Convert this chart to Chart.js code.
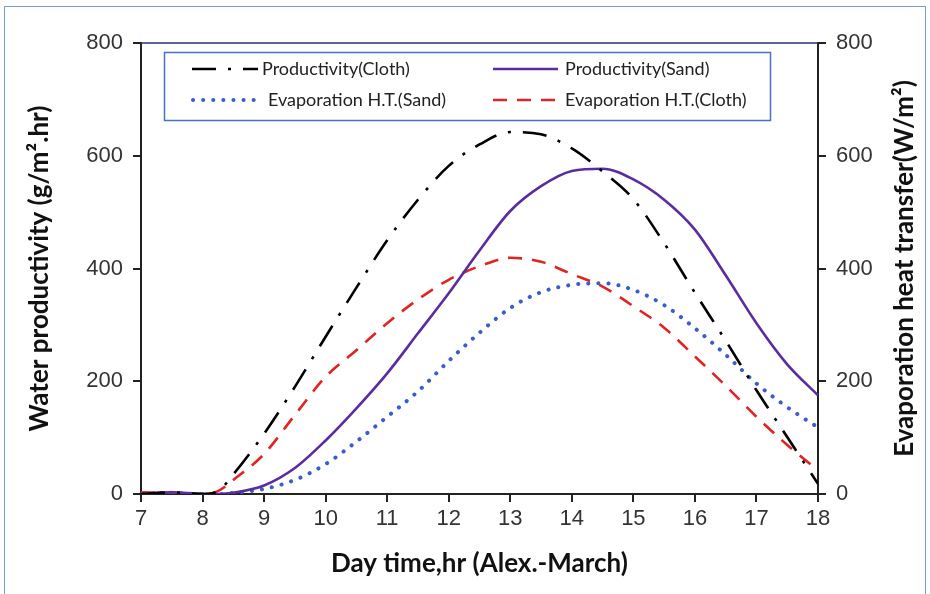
<!DOCTYPE html>
<html><head><meta charset="utf-8">
<script src="https://cdn.jsdelivr.net/npm/chart.js@4"></script>
<style>
html,body{margin:0;padding:0;background:#fff;}
#wrap{position:relative;width:930px;height:594px;overflow:hidden;}
#frame{position:absolute;left:4px;top:6px;width:922px;height:600px;border:1.5px solid #7b9bd6;box-sizing:border-box;pointer-events:none}
canvas{position:absolute;left:0;top:0}
</style></head>
<body><div id="wrap"><canvas id="c" width="930" height="594"></canvas><div id="frame"></div></div>
<script>
const hours = [7, 7.5, 8, 8.25, 8.5, 9, 9.5, 10, 10.5, 11, 11.5, 12, 12.5, 13, 13.5, 14, 14.5, 15, 15.5, 16, 16.5, 17, 17.5, 18];
const productivityCloth = [0, 3, 0, 5, 35, 107, 190, 279, 366, 450, 522, 582, 620, 642, 638, 613, 572, 523, 445, 357, 272, 184, 101, 18];
const productivitySand  = [0, 3, 0, 0, 2, 15, 46, 95, 152, 214, 285, 356, 432, 502, 546, 573, 577, 558, 522, 469, 388, 303, 230, 175];
const evapSand          = [0, 2, 0, 0, 2, 9, 25, 53, 93, 137, 182, 236, 286, 330, 358, 371, 374, 362, 335, 294, 247, 196, 154, 118];
const evapCloth         = [3, 2, 0, 5, 25, 71, 140, 208, 255, 303, 345, 380, 404, 419, 412, 390, 368, 333, 295, 244, 192, 137, 87, 42];
const yTicks = [0, 200, 400, 600, 800];
const xTicks = [7, 8, 9, 10, 11, 12, 13, 14, 15, 16, 17, 18];

const labels = ["Productivity(Cloth)", "Productivity(Sand)", "Evaporation H.T.(Sand)", "Evaporation H.T.(Cloth)"];
const rightTitle = 'Evaporation heat transfer(W/m\u00B2)';
const pts = arr => arr.map((v, i) => ({x: hours[i], y: v}));

const styles = [
  {color: '#000000', dash: [24, 12, 3, 12], width: 2.6, cap: 'butt'},
  {color: '#5b2ca0', dash: [], width: 2.6, cap: 'butt'},
  {color: '#3a5ccc', dash: [0.1, 10], width: 4, cap: 'round'},
  {color: '#e02424', dash: [14, 10], width: 2.6, cap: 'butt'}
];
const series = [productivityCloth, productivitySand, evapSand, evapCloth];
const axisOf = ['y', 'y', 'y2', 'y2'];

const datasets = series.map((s, i) => ({
  label: labels[i],
  data: pts(s),
  borderColor: styles[i].color,
  borderWidth: styles[i].width,
  borderDash: styles[i].dash,
  borderCapStyle: styles[i].cap,
  pointRadius: 0,
  fill: false,
  cubicInterpolationMode: 'monotone',
  yAxisID: axisOf[i]
}));

const titleFont = {family: 'Lato', size: 26, weight: 'bold'};
const tickFont = {family: 'Liberation Sans', size: 22};

const legendPlugin = {
  id: 'boxLegend',
  afterDraw(chart) {
    const ctx = chart.ctx;
    const a = chart.chartArea;
    ctx.save();
    // top frame of plot
    ctx.strokeStyle = '#27306a';
    ctx.lineWidth = 1.5;
    ctx.beginPath(); ctx.moveTo(a.left, a.top); ctx.lineTo(a.right, a.top); ctx.stroke();
    // right axis title, reading bottom to top
    ctx.save();
    ctx.translate(905, (a.top + a.bottom) / 2);
    ctx.rotate(-Math.PI / 2);
    ctx.font = 'bold 26px Lato';
    ctx.fillStyle = '#111';
    ctx.textAlign = 'center';
    ctx.textBaseline = 'middle';
    ctx.fillText(rightTitle, 0, 0);
    ctx.restore();
    // legend box
    ctx.fillStyle = '#fff';
    ctx.fillRect(164.5, 52.5, 606, 68);
    ctx.strokeStyle = '#4a72c4';
    ctx.lineWidth = 1.5;
    ctx.strokeRect(164.5, 52.5, 606, 68);
    const entries = [
      {i: 0, x1: 192, x2: 258, y: 69, tx: 262},
      {i: 1, x1: 493, x2: 558, y: 69, tx: 565},
      {i: 2, x1: 193, x2: 256, y: 100, tx: 268},
      {i: 3, x1: 493, x2: 556, y: 100, tx: 565}
    ];
    ctx.font = '18px Lato';
    ctx.textBaseline = 'middle';
    ctx.textAlign = 'left';
    entries.forEach(e => {
      const st = styles[e.i];
      ctx.strokeStyle = st.color;
      ctx.lineWidth = st.width;
      ctx.lineCap = st.cap;
      ctx.setLineDash(e.i === 3 ? [14, 10] : st.dash);
      ctx.beginPath(); ctx.moveTo(e.x1, e.y); ctx.lineTo(e.x2, e.y); ctx.stroke();
      ctx.setLineDash([]);
      ctx.fillStyle = '#222';
      ctx.fillText(labels[e.i], e.tx, e.y);
    });
    ctx.restore();
  }
};

new Chart(document.getElementById('c'), {
  type: 'line',
  data: {datasets},
  plugins: [legendPlugin],
  options: {
    responsive: false,
    animation: false,
    layout: {padding: {top: 43, left: 0, right: 0, bottom: 0}},
    plugins: {legend: {display: false}, tooltip: {enabled: false}},
    scales: {
      x: {
        type: 'linear', min: 7, max: 18,
        afterBuildTicks: s => { s.ticks = xTicks.map(v => ({value: v})); },
        afterFit: s => { s.height = 100; },
        ticks: {font: tickFont, color: '#333', padding: 4, maxRotation: 0},
        grid: {drawOnChartArea: false, drawTicks: true, tickLength: 8, color: '#222', lineWidth: 2},
        border: {display: true, color: '#222', width: 2},
        title: {display: true, text: 'Day time,hr (Alex.-March)', font: titleFont, color: '#111', padding: {top: 0, bottom: 15}}
      },
      y: {
        position: 'left', min: 0, max: 800,
        afterBuildTicks: s => { s.ticks = yTicks.map(v => ({value: v})); },
        afterFit: s => { s.width = 141; },
        ticks: {font: tickFont, color: '#333', padding: 10},
        grid: {drawOnChartArea: false, drawTicks: true, tickLength: 8, color: '#222', lineWidth: 2},
        border: {display: true, color: '#222', width: 2},
        title: {display: true, text: 'Water productivity (g/m\u00B2.hr)', font: titleFont, color: '#111', padding: {top: 24, bottom: 0}}
      },
      y2: {
        position: 'right', min: 0, max: 800,
        afterBuildTicks: s => { s.ticks = yTicks.map(v => ({value: v})); },
        afterFit: s => { s.width = 112; },
        ticks: {font: tickFont, color: '#333', padding: 10},
        grid: {drawOnChartArea: false, drawTicks: true, tickLength: 8, color: '#222', lineWidth: 2},
        border: {display: true, color: '#222', width: 2},
        title: {display: false}
      }
    }
  }
});
</script>
</body></html>
